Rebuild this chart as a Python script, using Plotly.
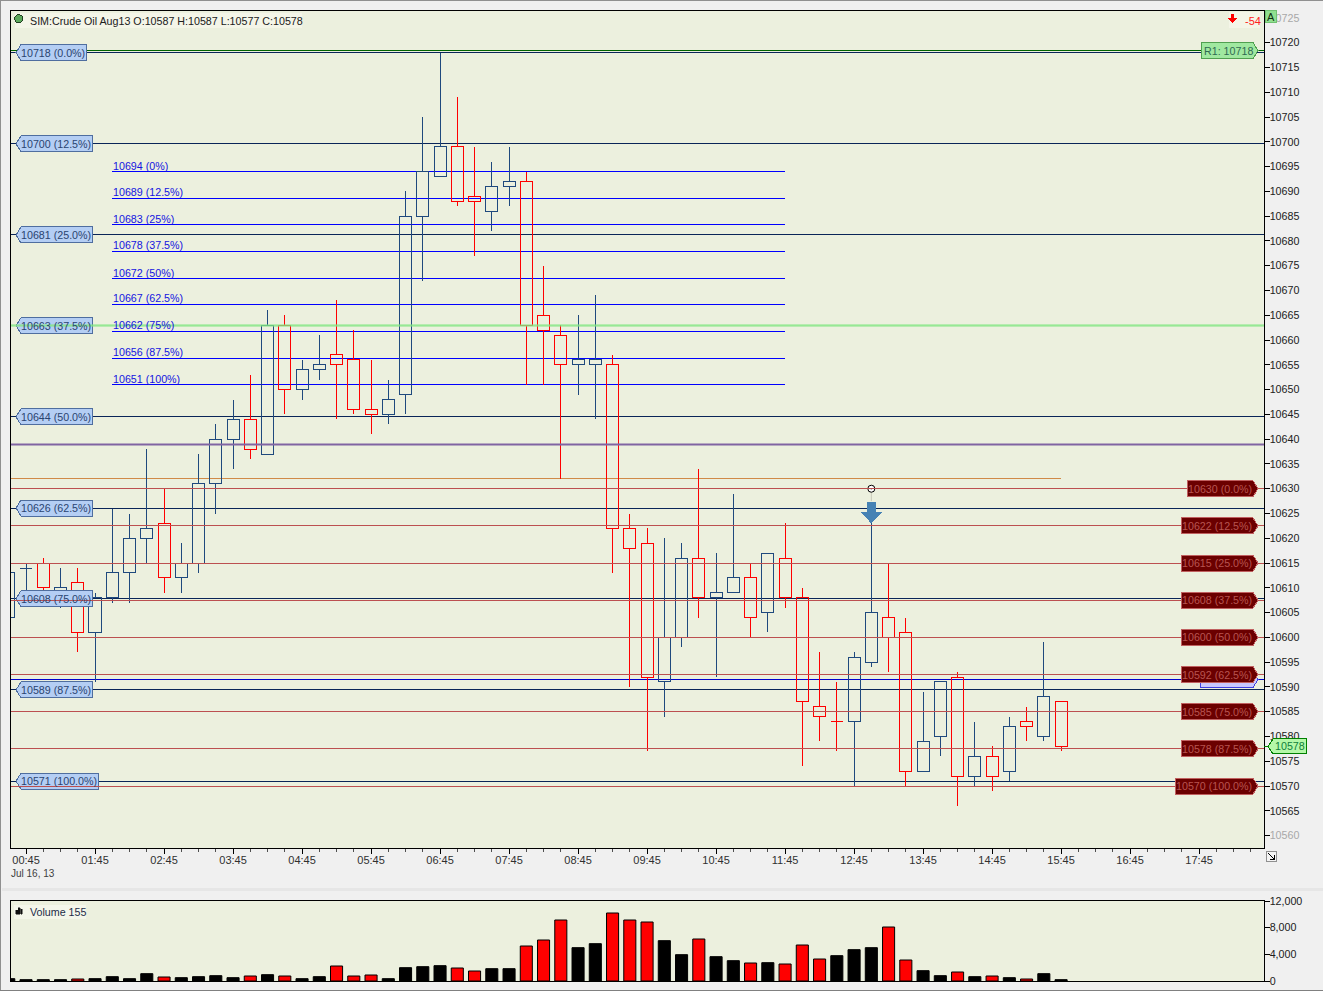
import pandas as pd
import plotly.graph_objects as go

# Crude oil Aug13, 15 minute bars from the reference
times = pd.date_range("2013-07-16 00:30", periods=62, freq="15min").strftime("%Y-%m-%d %H:%M").tolist()

opens = [10604, 10614, 10615, 10608, 10611, 10601, 10608, 10613, 10620, 10623, 10612, 10615, 10631, 10640, 10644, 10637,
         10663, 10650, 10654, 10657, 10656, 10646, 10645, 10649, 10685, 10693, 10699, 10689, 10686, 10691, 10692, 10665,
         10661, 10655, 10655, 10655, 10622, 10619, 10591, 10600, 10616, 10608, 10609, 10612, 10605, 10616, 10608, 10586,
         10583, 10583, 10595, 10604, 10601, 10573, 10580, 10592, 10572, 10576, 10573, 10583, 10580, 10587]
highs = [10613, 10615, 10616, 10614, 10614, 10609, 10626, 10625, 10638, 10630, 10619, 10637, 10643, 10648, 10653, 10666,
         10665, 10656, 10661, 10668, 10662, 10656, 10652, 10690, 10705, 10718, 10709, 10699, 10696, 10699, 10694, 10675,
         10663, 10665, 10669, 10657, 10625, 10622, 10620, 10619, 10634, 10617, 10629, 10615, 10617, 10623, 10610, 10597,
         10591, 10597, 10623, 10615, 10604, 10589, 10591, 10593, 10583, 10578, 10584, 10586, 10599, 10587]
lows = [10604, 10608, 10609, 10606, 10597, 10591, 10607, 10607, 10615, 10609, 10609, 10613, 10625, 10634, 10636, 10637,
        10645, 10648, 10652, 10644, 10645, 10641, 10643, 10645, 10672, 10693, 10687, 10677, 10682, 10687, 10651, 10651,
        10632, 10649, 10644, 10613, 10590, 10577, 10584, 10598, 10604, 10592, 10609, 10600, 10601, 10606, 10574, 10579,
        10577, 10570, 10594, 10593, 10570, 10573, 10576, 10566, 10570, 10569, 10571, 10579, 10579, 10577]
closes = [10613, 10614, 10610, 10610, 10601, 10608, 10613, 10620, 10622, 10612, 10615, 10631, 10640, 10644, 10638, 10663,
          10650, 10654, 10655, 10655, 10646, 10645, 10648, 10685, 10694, 10699, 10688, 10688, 10691, 10692, 10663, 10662,
          10655, 10656, 10656, 10622, 10618, 10592, 10600, 10616, 10608, 10609, 10612, 10604, 10617, 10608, 10587, 10584,
          10583, 10596, 10605, 10600, 10573, 10579, 10591, 10572, 10576, 10572, 10582, 10582, 10588, 10578]
volumes = [350, 200, 200, 200, 300, 350, 650, 350, 1100, 600, 500, 650, 800, 500, 750, 950,
           750, 350, 650, 2250, 750, 900, 350, 2000, 2150, 2300, 1950, 1500, 1850, 1850, 5250, 6150,
           9150, 5000, 5600, 10200, 9150, 8850, 6050, 3950, 6300, 3650, 3050, 2700, 2750, 2550, 5400, 3300,
           3800, 4700, 5000, 8100, 3150, 1550, 800, 1350, 650, 750, 500, 300, 1100, 200]
red_volume_bars = [4, 9, 14, 16, 19, 20, 21, 26, 27, 30, 31, 32, 35, 36, 37, 40, 43, 45, 46, 47, 51, 52, 55, 57, 59]

# retracement set on the left axis side
left_levels = [10718, 10699.6, 10681.2, 10662.9, 10644.5, 10626.1, 10607.8, 10589.4, 10571]
left_labels = ["10718 (0.0%)", "10700 (12.5%)", "10681 (25.0%)", "10663 (37.5%)", "10644 (50.0%)",
               "10626 (62.5%)", "10608 (75.0%)", "10589 (87.5%)", "10571 (100.0%)"]
# retracement set on the right side
right_levels = [10630, 10622.5, 10615, 10607.5, 10600, 10592.5, 10585, 10577.5, 10570]
right_labels = ["10630 (0.0%)", "10622 (12.5%)", "10615 (25.0%)", "10608 (37.5%)", "10600 (50.0%)",
                "10592 (62.5%)", "10585 (75.0%)", "10578 (87.5%)", "10570 (100.0%)"]
# short set in the middle
mid_levels = [10694, 10688.6, 10683.3, 10677.9, 10672.4, 10667.2, 10661.8, 10656.3, 10651]
mid_labels = ["10694 (0%)", "10689 (12.5%)", "10683 (25%)", "10678 (37.5%)", "10672 (50%)",
              "10667 (62.5%)", "10662 (75%)", "10656 (87.5%)", "10651 (100%)"]

price_ticks = list(range(10560, 10730, 5))

BG = "#ECF0DE"
PAGE = "#F0F0F0"
NAVY = "#0A2558"
CANDLE_BLUE = "#1F497D"
BROWN = "#BC5050"
FONT = "Liberation Sans"
W, H = 1323, 991


def px_x(p):
    return p / W


def px_y(p):
    return 1 - p / H


fig = go.Figure()

fig.add_trace(go.Candlestick(
    x=times, open=opens, high=highs, low=lows, close=closes,
    increasing=dict(line=dict(color=CANDLE_BLUE, width=1), fillcolor="rgba(0,0,0,0)"),
    decreasing=dict(line=dict(color="#FF0000", width=1), fillcolor="rgba(0,0,0,0)"),
    whiskerwidth=0, xaxis="x", yaxis="y", showlegend=False
))

# short order marker above the 12:45-ish bar
fig.add_trace(go.Scatter(
    x=[times[50], times[50]], y=[10630, 10627.5], mode="lines", xaxis="x", yaxis="y",
    line=dict(color="#C8C8B8", width=1), showlegend=False
))
fig.add_trace(go.Scatter(
    x=[times[50]], y=[10630], mode="markers", xaxis="x", yaxis="y",
    marker=dict(symbol="circle-dot", size=7, color="white", line=dict(color="black", width=1)),
    showlegend=False
))

fig.add_trace(go.Bar(
    x=times, y=volumes, xaxis="x2", yaxis="y2", showlegend=False,
    marker=dict(color=["#FF0000" if i in red_volume_bars else "#000000" for i in range(len(volumes))],
                line=dict(color="black", width=1))
))

shapes = []


def hline(price, color, width=1, layer="below", x0=0, x1=1, xref="x domain"):
    shapes.append(dict(type="line", xref=xref, yref="y", x0=x0, x1=x1, y0=price, y1=price,
                       line=dict(color=color, width=width), layer=layer))


def tag(price, left, right, fill, border, tip="right", half=8, yref="y"):
    # small price flag, x given in page pixels, y in pixels around the price
    if tip == "right":
        path = f"M{left},{half} L{right - 5},{half} L{right},0 L{right - 5},{-half} L{left},{-half} Z"
    else:
        path = f"M{left},0 L{left + 5},{half} L{right},{half} L{right},{-half} L{left + 5},{-half} Z"
    shapes.append(dict(type="path", path=path, xref="paper", yref=yref, xsizemode="pixel", ysizemode="pixel",
                       xanchor=0, yanchor=price, fillcolor=fill, line=dict(color=border, width=1), layer="above"))


# full width levels
hline(10632, "#D08A48", x1=times[61], xref="x")
hline(10591.5, "#0000CC")
for lvl in left_levels:
    if lvl != 10662.9:
        hline(lvl, NAVY)
hline(10718.4, "#006400")
for lvl in mid_levels:
    hline(lvl, "#0000FF", x0=times[6], x1=times[45], xref="x")

annotations = []

for lvl, txt in zip(left_levels, left_labels):
    right_edge = {"10718": 86.5, "10571": 98.5}.get(txt[:5], 92.5)
    tag(lvl, 16, right_edge, "#B4CEF4", "#4F6E9F", tip="left")
    annotations.append(dict(text=txt, xref="paper", yref="y", x=px_x(18.5), y=lvl, xanchor="left", yanchor="middle",
                            showarrow=False, font=dict(family=FONT, size=10.7, color="#2A4470")))

for lvl, txt in zip(mid_levels, mid_labels):
    annotations.append(dict(text=txt, xref="x", yref="y", x=times[6], y=lvl, xanchor="left", yanchor="bottom",
                            showarrow=False, yshift=-2, xshift=-1, font=dict(family=FONT, size=10.7, color="#1414E0")))

# the highlighted lines sit on top of tags and candles
hline(10663, "rgba(130,230,130,0.5)", width=3, layer="above")
hline(10663, "rgba(130,230,130,0.6)", width=1, layer="above")
hline(10639, "rgba(128,100,162,0.5)", width=3, layer="above")
hline(10639, "#8064A2", width=1, layer="above")
for lvl in right_levels:
    hline(lvl, BROWN, layer="above")

tag(10718.4, 1201, 1258, "#A0E8A0", "#50A050")
annotations.append(dict(text="R1: 10718", xref="paper", yref="y", x=px_x(1228), y=10718.4, xanchor="center",
                        showarrow=False, font=dict(family=FONT, size=10.7, color="#2F6A52")))

# blue working order flag mostly hidden behind the red flag
tag(10591.5, 1200, 1258, "#C8C8FF", "#4040E0")

for lvl, txt in zip(right_levels, right_labels):
    left_edge = {"10630": 1187.5, "10570": 1175.5}.get(txt[:5], 1181.5)
    tag(lvl, left_edge, 1258, "#6B0000", "#C06060")
    annotations.append(dict(text=txt, xref="paper", yref="y", x=px_x(1253.5), y=lvl, xanchor="right", yanchor="middle",
                            showarrow=False, font=dict(family=FONT, size=10.7, color="#B85450")))

# last price flag over the axis
shapes.append(dict(type="line", xref="paper", yref="y", x0=px_x(1263.5), x1=px_x(1268), y0=10578, y1=10578,
                   line=dict(color="#008000", width=1), layer="above"))
shapes.append(dict(type="path", xref="paper", yref="y", xsizemode="pixel", ysizemode="pixel", xanchor=0, yanchor=10578,
                   path="M1268,0 L1273,7.5 L1306.5,7.5 L1306.5,-7.5 L1273,-7.5 Z",
                   fillcolor="#B4F8A8", line=dict(color="#008000", width=1), layer="above"))
annotations.append(dict(text="10578", xref="paper", yref="y", x=px_x(1289.5), y=10578, xanchor="center", showarrow=False,
                        font=dict(family=FONT, size=10.7, color="#0F7F3C")))

# short arrow
shapes.append(dict(type="path", xref="x", yref="y", xsizemode="pixel", ysizemode="pixel",
                   xanchor=times[50], yanchor=10623,
                   path="M0,0 L-10.5,11 L-4.5,11 L-4.5,21 L4.5,21 L4.5,11 L10.5,11 Z",
                   fillcolor="#4682B4", line=dict(width=0), layer="above"))

# header background, status dot, top right box, "A" button, resize icon, window edges
paper_rects = [
    (15, 13, 302, 28, "#F4F5E8", None),
    (1229, 12, 1260, 28, "#F4F5E8", None),
    (1265, 10, 1276, 22, "#90E090", "#70C070"),
    (1266, 851, 1276, 861, "#F4F4F4", "#909090"),
    (14, 905, 86, 919, "#F4F6EA", None),
    (0, 0, 1323, 1, "#909090", None),
    (0, 0, 1, 991, "#909090", None),
    (0, 990, 1323, 991, "#808080", None),
    (2, 888, 1323, 891, "#E6E6E6", None),
]
for x0, y0, x1, y1, fill, border in paper_rects:
    shapes.append(dict(type="rect", xref="paper", yref="paper", x0=px_x(x0), x1=px_x(x1), y0=px_y(y0), y1=px_y(y1),
                       fillcolor=fill, line=dict(color=border, width=1) if border else dict(width=0), layer="above"))

shapes.append(dict(type="circle", xref="paper", yref="paper", x0=px_x(14.7), x1=px_x(22.7), y0=px_y(14.7), y1=px_y(22.7),
                   fillcolor="#5CA85C", line=dict(color="#204020", width=1), layer="above"))
# down arrow next to -54
shapes.append(dict(type="path", xref="paper", yref="paper", xsizemode="pixel", ysizemode="pixel", xanchor=0, yanchor=1,
                   path="M1232.5,-23 L1228,-18 L1231,-18 L1231,-14 L1234,-14 L1234,-18 L1237,-18 Z",
                   fillcolor="#FF0000", line=dict(width=0), layer="above"))
# resize arrow
shapes.append(dict(type="path", xref="paper", yref="paper", xsizemode="pixel", ysizemode="pixel", xanchor=0, yanchor=1,
                   path="M1268,-853 L1274,-859 M1274,-855 L1274,-859 L1270,-859",
                   line=dict(color="black", width=1), layer="above"))
# small bars icon of the volume panel
shapes.append(dict(type="path", xref="paper", yref="paper", xsizemode="pixel", ysizemode="pixel", xanchor=0, yanchor=1,
                   path="M15.5,-914 L15.5,-910 L17.5,-910 L17.5,-914 Z M18,-914 L18,-907.5 L20,-907.5 L20,-914 Z M20.5,-914 L20.5,-909 L22,-909 L22,-914 Z",
                   fillcolor="#101010", line=dict(color="#101010", width=0.5), layer="above"))

annotations += [
    dict(text="SIM:Crude Oil Aug13 O:10587 H:10587 L:10577 C:10578", xref="paper", yref="paper",
         x=px_x(28), y=px_y(20.5), xanchor="left", yanchor="middle", showarrow=False,
         font=dict(family=FONT, size=10.7, color="#202020")),
    dict(text="-54", xref="paper", yref="paper", x=px_x(1243), y=px_y(20.5), xanchor="left", yanchor="middle",
         showarrow=False, font=dict(family=FONT, size=11, color="#FF2020")),
    dict(text="A", xref="paper", yref="paper", x=px_x(1270.5), y=px_y(16.5), xanchor="center", yanchor="middle",
         showarrow=False, font=dict(family=FONT, size=11, color="#103010")),
    dict(text="Volume 155", xref="paper", yref="paper", x=px_x(28), y=px_y(911.5), xanchor="left", yanchor="middle",
         showarrow=False, font=dict(family=FONT, size=10.7, color="#1C2C48")),
    dict(text="Jul 16, 13", xref="paper", yref="paper", x=px_x(9), y=px_y(873.5), xanchor="left", yanchor="middle",
         showarrow=False, font=dict(family=FONT, size=10, color="#404040")),
]

axis_range = ["2013-07-16 00:31:30", "2013-07-16 18:41"]
tick_text = [f"<span style='color:#A8A8A8'>{t}</span>" if t in (10560, 10725) else str(t) for t in price_ticks]

fig.update_layout(
    width=W, height=H,
    margin=dict(l=0, r=0, t=0, b=0),
    paper_bgcolor=PAGE, plot_bgcolor=BG,
    font=dict(family=FONT, size=11, color="#202020"),
    showlegend=False, bargap=0.3, boxgap=0.3, boxgroupgap=0, hovermode=False,
    shapes=shapes, annotations=annotations,
    xaxis=dict(type="date", domain=[px_x(10.5), px_x(1263.5)], range=axis_range, anchor="y", automargin=False,
               rangeslider=dict(visible=False),
               tick0="2013-07-16 00:45", dtick=3600000, tickformat="%H:%M",
               ticks="outside", ticklen=5, tickcolor="black", tickfont=dict(size=11, color="#303030"),
               ticklabelstandoff=-3,
               minor=dict(dtick=900000, tick0="2013-07-16 00:45", ticks="outside", ticklen=3, tickcolor="#505050"),
               showgrid=False, showline=True, linecolor="black", mirror=True, zeroline=False),
    yaxis=dict(domain=[px_y(848), px_y(10.5)], range=[10557.5, 10726.5], side="right", anchor="x", automargin=False,
               tickvals=price_ticks, ticktext=tick_text, ticklabelstandoff=-2,
               ticks="outside", ticklen=5, tickcolor="black", tickfont=dict(size=10.7, color="#202020"),
               showgrid=False, showline=True, linecolor="black", mirror=True, zeroline=False),
    xaxis2=dict(type="date", domain=[px_x(10.5), px_x(1263.5)], range=axis_range, anchor="y2", automargin=False,
                showticklabels=False, ticks="", showgrid=False, showline=True, linecolor="black", mirror=True,
                zeroline=False),
    yaxis2=dict(domain=[px_y(981), px_y(901)], range=[0, 12000], side="right", anchor="x2", automargin=False,
                tickvals=[0, 4000, 8000, 12000], tickformat=",d", ticklabelstandoff=-2,
                ticks="outside", ticklen=5, tickcolor="black", tickfont=dict(size=10.7, color="#202020"),
                showgrid=False, showline=True, linecolor="black", mirror=True, zeroline=False),
)

# crisp 1px lines like the trading platform draws them, and no extra close line inside the candle bodies
page_css = """
document.body.style.margin='0';document.body.style.overflow='hidden';
var st=document.createElement('style');
st.textContent='.shapelayer path,.boxes path{shape-rendering:crispEdges !important}';
document.head.appendChild(st);
document.querySelectorAll('.boxes path').forEach(function(p){
  p.setAttribute('d',p.getAttribute('d').replace(/^M[^M]*M/,'M'));
});
"""
fig.write_html("out.html", config=dict(displayModeBar=False), post_script=page_css)
